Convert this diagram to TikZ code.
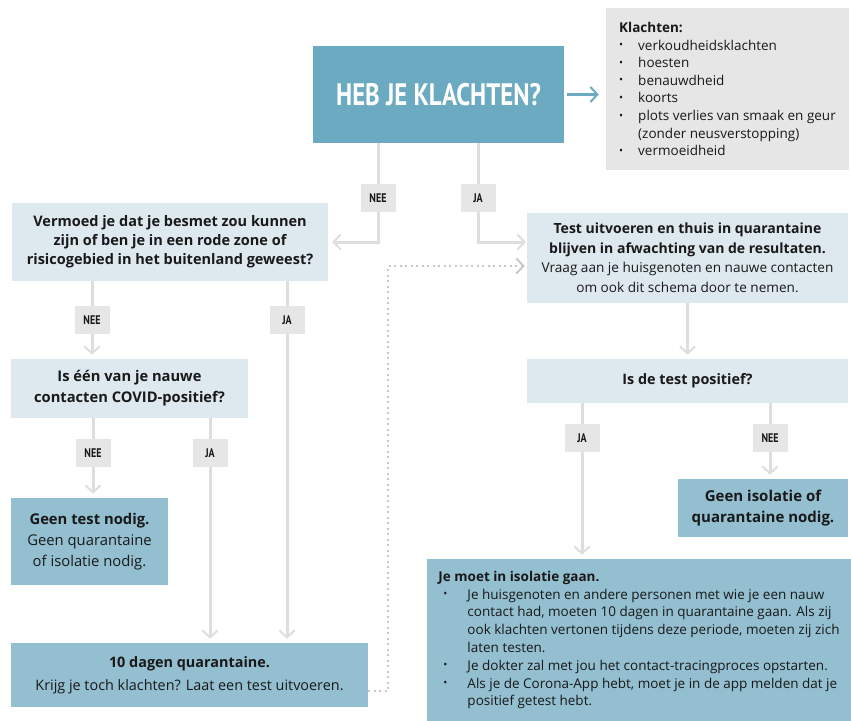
\documentclass[tikz,border=0pt]{standalone}
\usepackage{fontspec}
\setmainfont{Open Sans}
\newfontfamily\condfont[FakeStretch=0.8]{PT Sans}
\usetikzlibrary{arrows.meta}
\definecolor{qblue}{RGB}{107,170,192}
\definecolor{lightbox}{RGB}{222,232,239}
\definecolor{midbox}{RGB}{147,191,208}
\definecolor{graybox}{RGB}{230,230,230}
\definecolor{linegray}{RGB}{222,222,222}
\definecolor{dotgray}{RGB}{200,200,200}
\definecolor{txt}{RGB}{25,25,25}
\newcommand{\itm}[2][0pt]{\hspace*{#1}\makebox[#2][l]{\raisebox{.2ex}{\scalebox{.8}{\textbullet}}}}

\begin{document}
\begin{tikzpicture}[x=1pt, y=-1pt,
  every node/.style={inner sep=0pt, text=txt, align=center},
  light/.style={fill=lightbox},
  mid/.style={fill=midbox},
  lbl/.style={fill=graybox, minimum width=35pt, minimum height=28pt,
    font=\condfont\bfseries\fontsize{12.5}{12.5}\selectfont},
  flow/.style={draw=linegray, line width=3pt, shorten >=4pt,
    -{Straight Barb[length=7pt, width=15pt, line width=2pt]}}]
  \useasboundingbox (0,0) rectangle (851,720);

  \node [fill=qblue, minimum width=251pt, minimum height=97pt, text=white,
    font=\condfont\bfseries\fontsize{31}{31}\selectfont] (Q) at (438.5,94.5) {HEB JE KLACHTEN?};
  \node [fill=graybox, minimum width=243pt, minimum height=162pt, align=left,
    font=\fontsize{13.5}{17.6}\selectfont] (K) at (727.5,89) {%
    \textbf{Klachten:}\\
    \itm{19pt}verkoudheidsklachten\\
    \itm{19pt}hoesten\\
    \itm{19pt}benauwdheid\\
    \itm{19pt}koorts\\
    \itm{19pt}plots verlies van smaak en geur\\
    \hspace*{19pt}(zonder neusverstopping)\\
    \itm{19pt}vermoeidheid};

  \node [light, minimum width=316pt, minimum height=78pt,
    font=\bfseries\fontsize{14.5}{18.8}\selectfont] (V) at (170,242)
    {Vermoed je dat je besmet zou kunnen\\ zijn of ben je in een rode zone of\\ risicogebied in het buitenland geweest?};
  \node [light, minimum width=321pt, minimum height=90pt,
    font=\fontsize{13.6}{19.5}\selectfont] (T) at (687.5,258)
    {{\fontsize{14}{19.5}\selectfont\bfseries Test uitvoeren en thuis in quarantaine}\\
     {\fontsize{14}{19.5}\selectfont\bfseries blijven in afwachting van de resultaten.}\\
     Vraag aan je huisgenoten en nauwe contacten\\ om ook dit schema door te nemen.};
  \node [light, minimum width=237pt, minimum height=59pt,
    font=\bfseries\fontsize{14.7}{21}\selectfont] (C) at (129.5,388.5)
    {Is één van je nauwe\\ contacten COVID-positief?};
  \node [light, minimum width=321pt, minimum height=44pt,
    font=\bfseries\fontsize{14.4}{18}\selectfont] (P) at (687.5,381) {Is de test positief?};
  \node [mid, minimum width=157pt, minimum height=87pt,
    font=\fontsize{14.8}{21}\selectfont] (G) at (89.5,541.5)
    {\textbf{Geen test nodig.}\\ Geen quarantaine\\ of isolatie nodig.};
  \node [mid, minimum width=170pt, minimum height=58pt,
    font=\bfseries\fontsize{15}{20.5}\selectfont] (GI) at (763,508)
    {Geen isolatie of\\ quarantaine nodig.};
  \node [mid, minimum width=357pt, minimum height=64pt,
    font=\fontsize{14.4}{23.5}\selectfont] (D) at (189.5,675)
    {\textbf{10 dagen quarantaine.}\\ Krijg je toch klachten? Laat een test uitvoeren.};
  \node [mid, minimum width=424pt, minimum height=162pt, align=left,
    font=\fontsize{13.5}{17.8}\selectfont] (I) at (639,640) {%
    \textbf{Je moet in isolatie gaan.}\\
    \itm[5pt]{24pt}Je huisgenoten en andere personen met wie je een nauw\\
    \hspace*{29pt}contact had, moeten 10 dagen in quarantaine gaan. Als zij\\
    \hspace*{29pt}ook klachten vertonen tijdens deze periode, moeten zij zich\\
    \hspace*{29pt}laten testen.\\
    \itm[5pt]{24pt}Je dokter zal met jou het contact-tracingproces opstarten.\\
    \itm[5pt]{24pt}Als je de Corona-App hebt, moet je in de app melden dat je\\
    \hspace*{29pt}positief getest hebt.};

  % ja/nee labels
  \node [lbl] (N1) at (378,198) {NEE};
  \node [lbl] (J1) at (478,198) {JA};
  \node [lbl] (N2) at (92,320) {NEE};
  \node [lbl] (J2) at (287,320) {JA};
  \node [lbl] (N3) at (93,453) {NEE};
  \node [lbl] (J3) at (210,453) {JA};
  \node [lbl] (J4) at (582,438) {JA};
  \node [lbl] (N4) at (770,438) {NEE};

  \draw [flow, draw=qblue, shorten <=3pt, shorten >=7pt] (Q.east) -- (Q.east -| K.west);
  \draw [flow] (Q.south -| N1) -- (N1) |- (V);
  \draw [flow, shorten >=1pt] (Q.south -| J1) -- (J1) |- (T.west |- V.east);
  \draw [flow] (V.south -| N2) -- (N2) -- (C.north -| N2);
  \draw [flow] (V.south -| J2) -- (J2) -- (D.north -| J2);
  \draw [flow] (C.south -| N3) -- (N3) -- (G.north -| N3);
  \draw [flow] (C.south -| J3) -- (J3) -- (D.north -| J3);
  \draw [flow] (T) -- (P);
  \draw [flow] (P.south -| J4) -- (J4) -- (I.north -| J4);
  \draw [flow] (P.south -| N4) -- (N4) -- (GI.north -| N4);
  \draw [flow, draw=dotgray, line width=2pt, dash pattern=on 2pt off 3.5pt, shorten >=2pt]
    ([yshift=-16pt]D.east) -- ++(20,0) |- ([yshift=-8pt]T.west);
\end{tikzpicture}
\end{document}
